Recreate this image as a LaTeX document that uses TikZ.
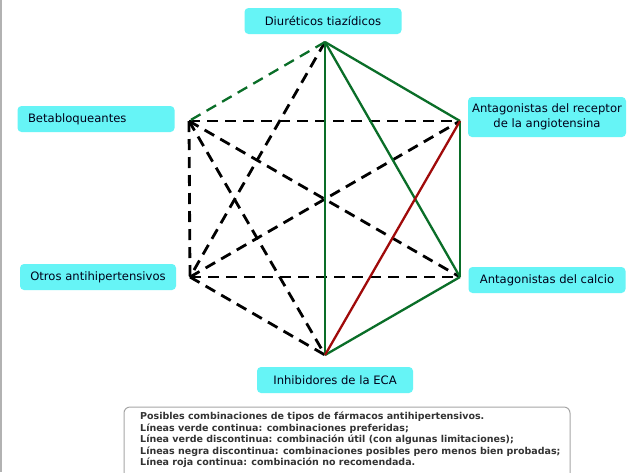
\documentclass[tikz,border=0pt]{standalone}
\usepackage{fontspec}
\setmainfont{DejaVu Sans}
\definecolor{lcyan}{RGB}{102,244,246}
\definecolor{dgreen}{RGB}{10,110,40}
\definecolor{dred}{RGB}{160,10,10}
\begin{document}
\begin{tikzpicture}[x=1pt,y=-1pt,
  lbl/.style={fill=lcyan, rounded corners=4pt, inner sep=0pt, minimum height=26pt, text=black!90!blue, font=\fontsize{11.6}{15.5}\selectfont},
  gs/.style={draw=dgreen, line width=2.3pt},
  gd/.style={gs, dash pattern=on 11pt off 7pt},
  bd/.style={draw=black, line width=2.8pt, dash pattern=on 11pt off 7pt},
  rs/.style={draw=dred, line width=2.3pt}]
\useasboundingbox (0,0) rectangle (644,472);
\fill[white] (0,0) rectangle (644,472);
\draw[gray!60, line width=1.5pt] (1,0) -- (1,472);
% vertices
\coordinate (T) at (325,42);
\coordinate (UR) at (460,121);
\coordinate (LR) at (460,277);
\coordinate (B) at (325,355);
\coordinate (LL) at (190,277);
\coordinate (UL) at (189,121);
% black dashed
\draw[bd] (UL) -- (UR);
\draw[bd] (LL) -- (LR);
\draw[bd] (UL) -- (LL);
\draw[bd] (UL) -- (LR);
\draw[bd] (LL) -- (UR);
\draw[bd] (T) -- (LL);
\draw[bd] (UL) -- (B);
\draw[bd] (LL) -- (B);
% green
\draw[gd] (T) -- (UL);
\draw[gs] (T) -- (B);
\draw[gs] (T) -- (UR);
\draw[gs] (T) -- (LR);
\draw[gs] (UR) -- (LR);
\draw[gs] (B) -- (LR);
\draw[rs] (B) -- (UR);
% labels
\node[lbl, minimum width=157pt] (diu) at (323,21) {Diuréticos tiazídicos};
\node[lbl, minimum width=158pt, minimum height=40pt, align=center] (ara) at (547,117) {Antagonistas del receptor\\de la angiotensina};
\node[lbl, minimum width=157pt, text width=136pt, align=left] (bet) at (96,119) {Betabloqueantes};
\node[lbl, minimum width=156pt] (otr) at (98,277) {Otros antihipertensivos};
\node[lbl, minimum width=157pt] (cal) at (547,280) {Antagonistas del calcio};
\node[lbl, minimum width=156pt] (eca) at (335,380) {Inhibidores de la ECA};
% legend
\draw[gray!70, line width=1pt, rounded corners=6pt] (124,407) rectangle (570,490);
\node[anchor=north west, inner sep=0pt, align=left, text=black!80, font=\bfseries\fontsize{9.5}{11.5}\selectfont] (leg) at (140,412) {Posibles combinaciones de tipos de fármacos antihipertensivos.\\
Líneas verde continua: combinaciones preferidas;\\
Línea verde discontinua: combinación útil (con algunas limitaciones);\\
Líneas negra discontinua: combinaciones posibles pero menos bien probadas;\\
Línea roja continua: combinación no recomendada.};
\end{tikzpicture}
\end{document}
